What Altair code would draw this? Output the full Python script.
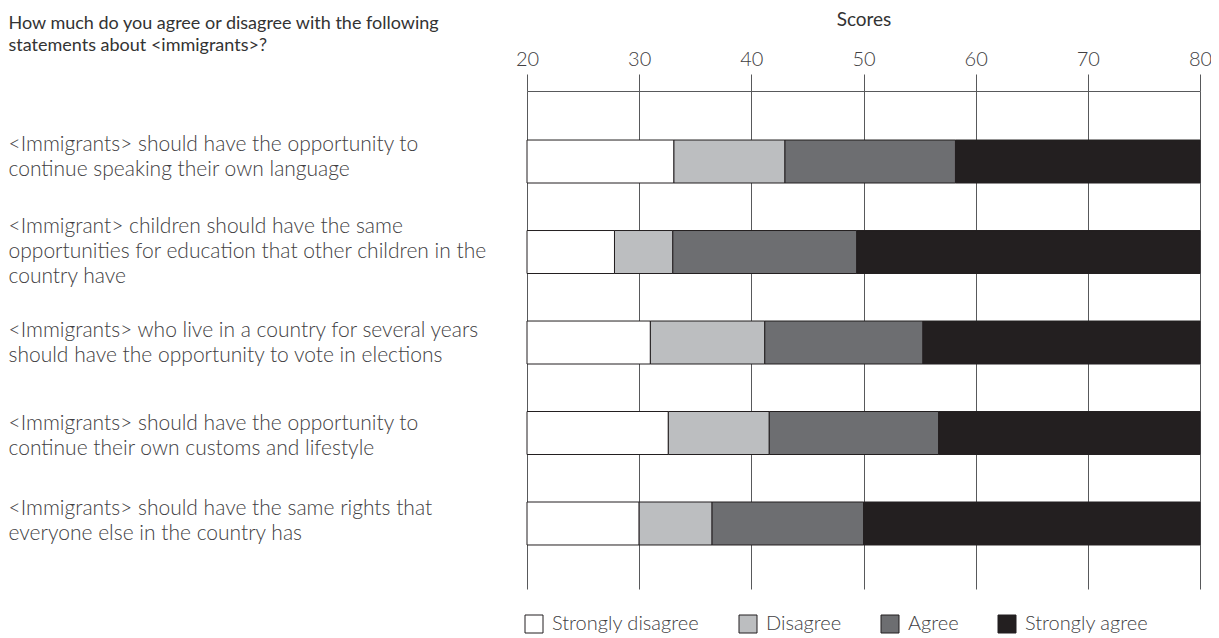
import altair as alt
import pandas as pd

statements = [
    "<Immigrants> should have the opportunity to|continue speaking their own language",
    "<Immigrant> children should have the same|opportunities for education that other children in the|country have",
    "<Immigrants> who live in a country for several years|should have the opportunity to vote in elections",
    "<Immigrants> should have the opportunity to|continue their own customs and lifestyle",
    "<Immigrants> should have the same rights that|everyone else in the country has",
]
categories = ["Strongly disagree", "Disagree", "Agree", "Strongly agree"]
colors = ["#ffffff", "#bcbec0", "#6d6e71", "#231f20"]

axis_min = 20
strongly_disagree_end = [33.1, 27.8, 31.0, 32.6, 30.0]
disagree_end = [43.0, 33.0, 41.2, 41.6, 36.5]
agree_end = [58.2, 49.4, 55.3, 56.7, 50.0]
strongly_agree_end = [80, 80, 80, 80, 80]
tick_values = [20, 30, 40, 50, 60, 70, 80]
question = ["How much do you agree or disagree with the following",
            "statements about <immigrants>?"]

rows = []
for i, s in enumerate(statements):
    bounds = [axis_min, strongly_disagree_end[i], disagree_end[i], agree_end[i], strongly_agree_end[i]]
    for j, c in enumerate(categories):
        rows.append({"statement": s, "category": c, "start": bounds[j], "end": bounds[j + 1]})
df = pd.DataFrame(rows)

line_col = "#58595b"
text_col = "#414042"

label_offset = {
    "condition": [
        {"test": "indexof(datum.value, 'own language') >= 0", "value": -17},
        {"test": "indexof(datum.value, 'children') >= 0", "value": -25},
        {"test": "indexof(datum.value, 'elections') >= 0", "value": -12},
        {"test": "indexof(datum.value, 'customs') >= 0", "value": -9},
    ],
    "value": -15,
}

chart = alt.Chart(df).mark_bar(stroke="#231f20", strokeWidth=1).encode(
    x=alt.X("start:Q",
            scale=alt.Scale(domain=[20, 80], nice=False, zero=False),
            axis=alt.Axis(orient="top", values=tick_values, title="Scores",
                          titleFont="Lato", titleFontSize=19, titleFontWeight="normal",
                          titleColor="#333333", titleBaseline="alphabetic", titleY=-66,
                          labelFont="Lato", labelFontSize=20, labelFontWeight=300,
                          labelColor=text_col, labelPadding=9, labelBaseline="alphabetic",
                          labelFlush=False, tickSize=17, tickColor=line_col,
                          domainColor=line_col, gridColor=line_col, grid=True)),
    x2="end:Q",
    y=alt.Y("statement:N", sort=statements,
            scale=alt.Scale(paddingInner=0.525, paddingOuter=0.514, align=0.527),
            axis=alt.Axis(title=question, titleAngle=0, titleAlign="left",
                          titleBaseline="alphabetic", titleX=-519, titleY=-63,
                          titleFont="Lato", titleFontSize=18, titleFontWeight="normal",
                          titleColor="#333333", titleLineHeight=22,
                          labelExpr="split(datum.label, '|')", labelAlign="left",
                          labelPadding=519, labelLimit=0, labelFont="Lato",
                          labelFontSize=21, labelFontWeight=300, labelColor=text_col,
                          labelLineHeight=25, labelBaseline="middle",
                          labelOffset=label_offset,
                          ticks=False, tickSize=0, domain=False, grid=False)),
    color=alt.Color("category:N",
                    scale=alt.Scale(domain=categories, range=colors),
                    legend=alt.Legend(orient="none", legendX=-3, legendY=523,
                                      direction="horizontal", title=None,
                                      symbolType="square", symbolSize=324,
                                      symbolStrokeColor="#231f20", symbolStrokeWidth=1,
                                      labelFont="Lato", labelFontSize=20, labelFontWeight=300,
                                      labelColor=text_col, columnPadding=37, labelOffset=8,
                                      padding=0)),
).properties(
    width=673, height=498,
    autosize=alt.AutoSizeParams(type="none"),
    padding={"left": 519, "top": 83, "right": 11, "bottom": 48},
).configure_view(stroke=None)

chart.save("out.html", embed_options={"renderer": "svg", "actions": False})
